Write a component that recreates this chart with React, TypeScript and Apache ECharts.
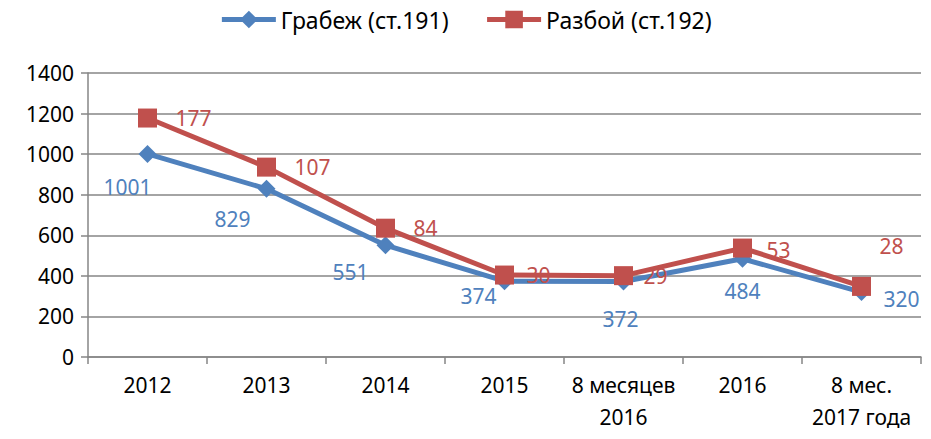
import React, { useEffect, useRef } from "react";
import * as echarts from "echarts";

const categories = ["2012", "2013", "2014", "2015", "8 месяцев\n2016", "2016", "8 мес.\n2017 года"];
const robbery = [1001, 829, 551, 374, 372, 484, 320];
const assault = [177, 107, 84, 30, 29, 53, 28];
const yTicks = { min: 0, max: 1400, interval: 200 };

// label placement per point (style only)
const robberyLabelOffsets: [number, number][] = [
  [-20, 33], [-34, 30], [-35, 27], [-26, 15], [-3, 37], [0, 32], [40, 7],
];
const assaultLabelOffsets: [number, number][] = [
  [46, 0], [46, 0], [40, 0], [34, 0], [32, 0], [36, 2], [30, -40],
];

const FONT = "Noto Sans";
const BLUE = "#4F81BD";
const RED = "#C0504D";
const FS = 21;

export default function App() {
  const ref = useRef<HTMLDivElement>(null);
  useEffect(() => {
    if (!ref.current) return;
    const chart = echarts.init(ref.current, undefined, { renderer: "svg" });
    chart.setOption({
      animation: false,
      textStyle: { fontFamily: FONT },
      legend: {
        top: 3,
        left: "center",
        itemWidth: 54,
        itemHeight: 22,
        itemGap: 36,
        textStyle: { fontSize: 23, color: "#000", fontFamily: FONT },
        lineStyle: { width: 5 },
        data: ["Грабеж (ст.191)", "Разбой (ст.192)"],
      },
      grid: { left: 88, right: 10, top: 73, bottom: 82, containLabel: false },
      xAxis: {
        type: "category",
        data: categories,
        boundaryGap: true,
        axisLine: { lineStyle: { color: "#868686", width: 1.5 } },
        axisTick: { show: true, length: 7, interval: 0, lineStyle: { color: "#868686", width: 1.5 } },
        axisLabel: { color: "#000", fontSize: FS, lineHeight: 32, margin: 12, interval: 0, fontFamily: FONT },
      },
      yAxis: {
        type: "value",
        min: yTicks.min,
        max: yTicks.max,
        interval: yTicks.interval,
        axisLine: { show: true, lineStyle: { color: "#868686", width: 1.5 } },
        axisTick: { show: true, length: 7, lineStyle: { color: "#868686", width: 1.5 } },
        splitLine: { lineStyle: { color: "#868686", width: 1.5 } },
        axisLabel: { color: "#000", fontSize: FS, margin: 14, fontFamily: FONT, formatter: (v: number) => String(v) },
      },
      series: [
        {
          name: "Грабеж (ст.191)",
          type: "line",
          stack: "total",
          symbol: "diamond",
          symbolSize: 18,
          lineStyle: { color: BLUE, width: 5 },
          itemStyle: { color: BLUE },
          data: robbery.map((v, i) => ({
            value: v,
            label: {
              show: true,
              position: "inside",
              offset: robberyLabelOffsets[i],
              color: BLUE,
              fontSize: FS,
              fontFamily: FONT,
            },
          })),
          z: 2,
        },
        {
          name: "Разбой (ст.192)",
          type: "line",
          stack: "total",
          symbol: "rect",
          symbolSize: 19,
          lineStyle: { color: RED, width: 5 },
          itemStyle: { color: RED },
          data: assault.map((v, i) => ({
            value: v,
            label: {
              show: true,
              position: "inside",
              offset: assaultLabelOffsets[i],
              color: RED,
              fontSize: FS,
              fontFamily: FONT,
            },
          })),
          z: 3,
        },
      ],
    });
    return () => chart.dispose();
  }, []);
  return <div ref={ref} style={{ width: 931, height: 439, position: "absolute", left: 0, top: 0 }} />;
}
